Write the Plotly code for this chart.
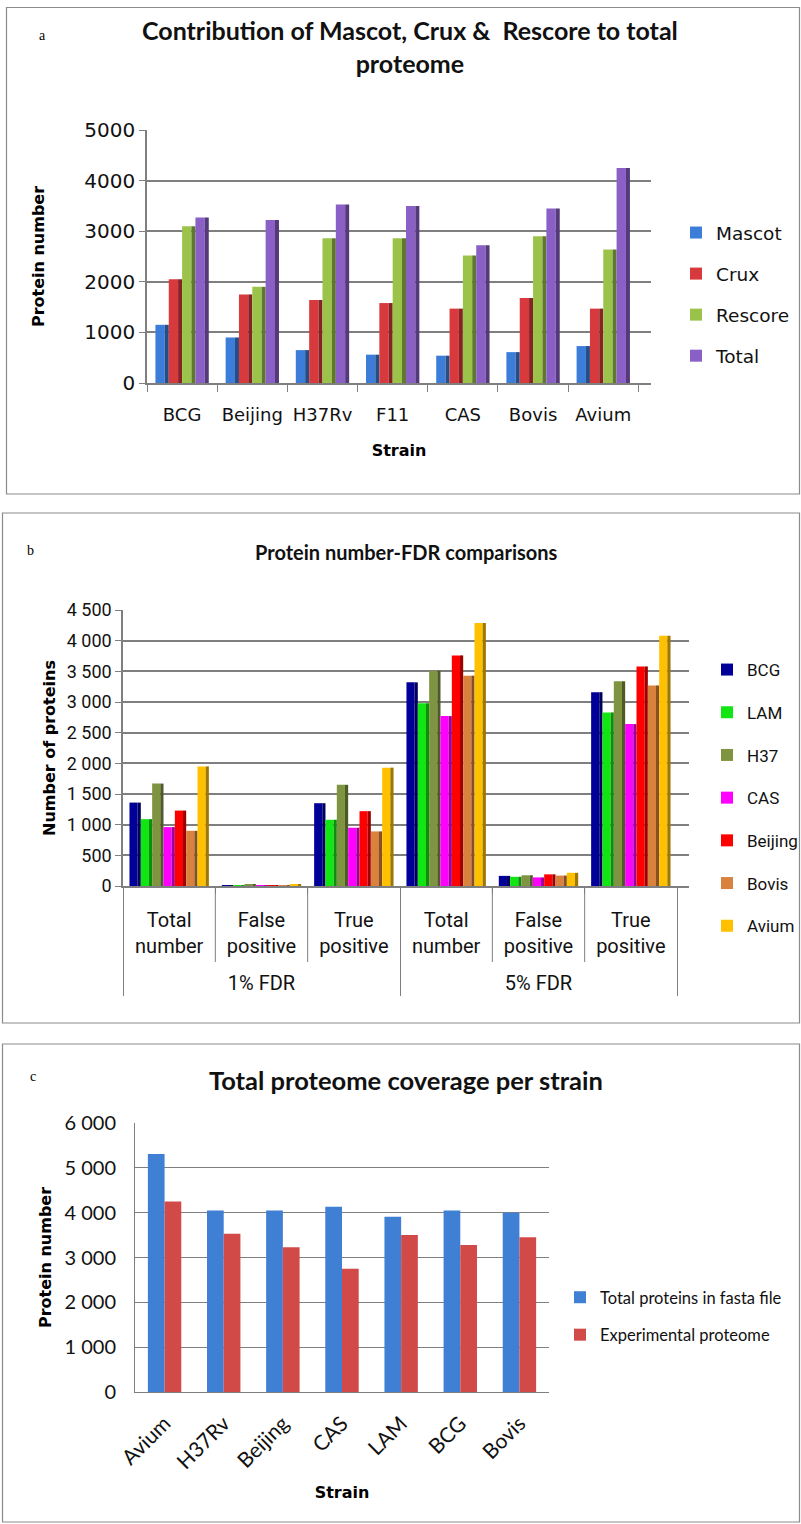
import plotly.graph_objects as go

W, H = 801, 1524

# ---------------- data ----------------
# (a) contribution of each search engine per strain
strains_a = ["BCG", "Beijing", "H37Rv", "F11", "CAS", "Bovis", "Avium"]
mascot = [1150, 900, 650, 560, 540, 610, 730]
crux = [2050, 1750, 1640, 1580, 1470, 1680, 1470]
rescore = [3100, 1900, 2860, 2860, 2520, 2900, 2640]
total = [3270, 3220, 3530, 3500, 2720, 3450, 4250]

# (b) protein numbers at two FDR levels
fdr_levels = ["1% FDR", "1% FDR", "1% FDR", "5% FDR", "5% FDR", "5% FDR"]
fdr_measures = ["Total<br>number", "False<br>positive", "True<br>positive",
                "Total<br>number", "False<br>positive", "True<br>positive"]
fdr_values = {
    "BCG":     [1360, 14, 1350, 3320, 165, 3160],
    "LAM":     [1090, 11, 1080, 2980, 150, 2830],
    "H37":     [1670, 17, 1650, 3510, 175, 3340],
    "CAS":     [960, 10, 950, 2770, 140, 2640],
    "Beijing": [1230, 12, 1220, 3760, 190, 3580],
    "Bovis":   [900, 9, 890, 3430, 170, 3270],
    "Avium":   [1950, 20, 1930, 4290, 215, 4080],
}

# (c) total proteome coverage per strain
strains_c = ["Avium", "H37Rv", "Beijing", "CAS", "LAM", "BCG", "Bovis"]
fasta_total = [5310, 4050, 4050, 4130, 3910, 4050, 4000]
experimental = [4250, 3530, 3230, 2750, 3500, 3280, 3450]

# ---------------- styling ----------------
colors_a = ["#3C7DD9", "#D8393C", "#9BC34A", "#8A5FC6"]
colors_b = {"BCG": "#000099", "LAM": "#12E612", "H37": "#7F9440", "CAS": "#FF00FF",
            "Beijing": "#FF0000", "Bovis": "#D9823E", "Avium": "#FFC000"}
colors_c = ["#3F7FD4", "#D24A48"]
GRID = "#7f7f7f"
WIDE = "DejaVu Sans"
NARROW = "Roboto"
CAL = "Lato"


def px_x(x):
    return x / W


def px_y(y):
    return 1 - y / H


def darker(hex_color, k=0.62):
    h = hex_color.lstrip("#")
    r, g, b = (int(h[i:i + 2], 16) for i in (0, 2, 4))
    return "rgb(%d,%d,%d)" % (r * k, g * k, b * k)


def add_3d_series(fig, x, y, name, color, idx, n, group_frac, side_share,
                  xa, ya, leg):
    """Column with a lit front face and a darker side face."""
    slot = group_frac / n
    front = slot * (1 - side_share)
    side = slot * side_share
    start = -group_frac / 2 + idx * slot
    fig.add_trace(go.Bar(x=x, y=y, name=name, marker_color=color, marker_line_width=0,
                         offset=start, width=front, xaxis=xa, yaxis=ya,
                         legend=leg, legendgroup=leg + name))
    fig.add_trace(go.Bar(x=x, y=y, name=name, marker_color=darker(color),
                         marker_line_width=0, offset=start + front, width=side,
                         xaxis=xa, yaxis=ya, showlegend=False,
                         legend=leg, legendgroup=leg + name, hoverinfo="skip"))


fig = go.Figure()

# ---------- panel a ----------
series_a = [("Mascot", mascot), ("Crux", crux), ("Rescore", rescore), ("Total", total)]
for i, ((name, vals), col) in enumerate(zip(series_a, colors_a)):
    add_3d_series(fig, strains_a, vals, name, col, i, len(series_a), 0.76, 0.3,
                  "x", "y", "legend")

# ---------- panel b ----------
x_b = [fdr_levels, [m + "<br> " for m in fdr_measures]]
for i, (name, vals) in enumerate(fdr_values.items()):
    add_3d_series(fig, x_b, vals, name, colors_b[name], i, len(fdr_values), 0.86, 0.28,
                  "x2", "y2", "legend2")

# ---------- panel c ----------
series_c = [("Total proteins in fasta file", fasta_total), ("Experimental proteome", experimental)]
group_c = 0.565
for i, ((name, vals), col) in enumerate(zip(series_c, colors_c)):
    fig.add_trace(go.Bar(x=strains_c, y=vals, name=name, marker_color=col,
                         marker_line_width=0, offset=-group_c / 2 + i * group_c / 2,
                         width=group_c / 2, xaxis="x3", yaxis="y3",
                         legend="legend3", legendgroup="c" + name))

n_a = len(strains_a)
n_b = len(fdr_measures)

fig.update_layout(
    width=W, height=H,
    margin=dict(l=0, r=0, t=0, b=0, autoexpand=False),
    paper_bgcolor="white", plot_bgcolor="white",
    separators=". ",
    barmode="overlay",
    showlegend=True,
    font=dict(family=CAL, color="#000000"),
    # panel a axes
    xaxis=dict(domain=[px_x(147), px_x(651)], anchor="y", type="category",
               range=[-0.5, n_a - 0.5 + 0.18], showgrid=False,
               showline=True, linecolor=GRID, linewidth=1.5,
               ticks="outside", tickson="boundaries", ticklen=7, tickcolor=GRID,
               tickangle=0, automargin=False, ticklabelstandoff=15,
               tickfont=dict(family=WIDE, size=18, color="#111"),
               title=dict(text="<b>Strain</b>", font=dict(family=WIDE, size=16), standoff=20)),
    yaxis=dict(domain=[px_y(383), px_y(130)], anchor="x", range=[0, 5000],
               dtick=1000, showgrid=True, gridcolor=GRID, gridwidth=1.5,
               showline=True, linecolor=GRID, linewidth=1.5, automargin=False,
               ticks="outside", ticklen=6, tickcolor=GRID, zeroline=False,
               tickfont=dict(family=WIDE, size=20, color="#111"),
               title=dict(text="<b>Protein number</b>", font=dict(family=WIDE, size=16), standoff=36)),
    # panel b axes
    xaxis2=dict(domain=[px_x(123), px_x(689)], anchor="y2", type="multicategory",
                range=[-0.5, n_b - 0.5 + 0.13], showgrid=False,
                showline=True, linecolor=GRID, linewidth=1.5,
                ticks="outside", ticklen=6, tickcolor=GRID, automargin=False,
                ticklabelstandoff=15,
                showdividers=True, dividercolor=GRID, dividerwidth=1,
                tickfont=dict(family=NARROW, size=20, color="#111")),
    yaxis2=dict(domain=[px_y(886), px_y(610)], anchor="x2", range=[0, 4500],
                dtick=500, showgrid=True, gridcolor=GRID, gridwidth=1.5,
                showline=True, linecolor=GRID, linewidth=1.5, separatethousands=True,
                ticks="outside", ticklen=6, tickcolor=GRID, zeroline=False, automargin=False,
                tickfont=dict(family=NARROW, size=18, color="#111"),
                title=dict(text="<b>Number of proteins</b>", font=dict(family=WIDE, size=16), standoff=7)),
    # panel c axes
    xaxis3=dict(domain=[px_x(135), px_x(549)], anchor="y3", type="category",
                showgrid=False, showline=True, linecolor=GRID, linewidth=1,
                tickangle=-45, ticks="", automargin=False, ticklabelstandoff=10,
                tickfont=dict(family=CAL, size=21, color="#111"),
                title=dict(text="<b>Strain</b>", font=dict(family=WIDE, size=16), standoff=14)),
    yaxis3=dict(domain=[px_y(1392), px_y(1123)], anchor="x3", range=[0, 6000],
                dtick=1000, showgrid=True, gridcolor=GRID, gridwidth=1,
                showline=True, linecolor=GRID, linewidth=1, separatethousands=True,
                ticks="", zeroline=False, automargin=False, ticklabelstandoff=14,
                tickfont=dict(family=CAL, size=20, color="#111"),
                title=dict(text="<b>Protein number</b>", font=dict(family=WIDE, size=16), standoff=8)),
    legend=dict(x=px_x(676), y=px_y(214), xanchor="left", yanchor="top",
                traceorder="grouped", tracegroupgap=14, itemwidth=30,
                font=dict(family=WIDE, size=18.5, color="#111"), bgcolor="rgba(0,0,0,0)"),
    legend2=dict(x=px_x(707), y=px_y(652), xanchor="left", yanchor="top",
                 traceorder="grouped", tracegroupgap=17.6, itemwidth=30,
                 font=dict(family=NARROW, size=17, color="#111"), bgcolor="rgba(0,0,0,0)"),
    legend3=dict(x=px_x(560), y=px_y(1280), xanchor="left", yanchor="top",
                 traceorder="grouped", tracegroupgap=13, itemwidth=30,
                 font=dict(family=CAL, size=16.5, color="#111"), bgcolor="rgba(0,0,0,0)"),
)

# separators between the measures inside each FDR level
for i in range(1, n_b):
    if fdr_levels[i] == fdr_levels[i - 1]:
        fig.add_shape(type="line", xref="x2", yref="paper", x0=i - 0.5, x1=i - 0.5,
                      y0=px_y(962), y1=px_y(886), line=dict(color=GRID, width=1))

# panel frames
frames = [(6.5, 7.5, 799.5, 494), (2.5, 513, 799.5, 1023), (2.5, 1044, 799.5, 1522)]
for x0, y0, x1, y1 in frames:
    fig.add_shape(type="rect", xref="paper", yref="paper",
                  x0=px_x(x0), x1=px_x(x1), y0=px_y(y1), y1=px_y(y0),
                  line=dict(color="#8c8c8c", width=1.2), fillcolor="rgba(0,0,0,0)", layer="below")

# titles and panel letters
titles = [
    ("Contribution of Mascot, Crux &  Rescore to total<br>proteome", 410, 47, 25, CAL),
    ("Protein number-FDR comparisons", 406, 552, 20, CAL),
    ("Total proteome coverage per strain", 406, 1080, 25.5, CAL),
]
for text, cx, cy, size, fam in titles:
    fig.add_annotation(text="<b>" + text + "</b>", xref="paper", yref="paper",
                       x=px_x(cx), y=px_y(cy), xanchor="center", yanchor="middle",
                       showarrow=False, font=dict(family=fam, size=size, color="#111"))
for letter, lx, ly in [("a", 42, 36), ("b", 31, 550), ("c", 33, 1076)]:
    fig.add_annotation(text=letter, xref="paper", yref="paper", x=px_x(lx), y=px_y(ly),
                       xanchor="center", yanchor="middle", showarrow=False,
                       font=dict(family="Liberation Serif", size=14, color="#000"))

fig.write_html("out.html")
